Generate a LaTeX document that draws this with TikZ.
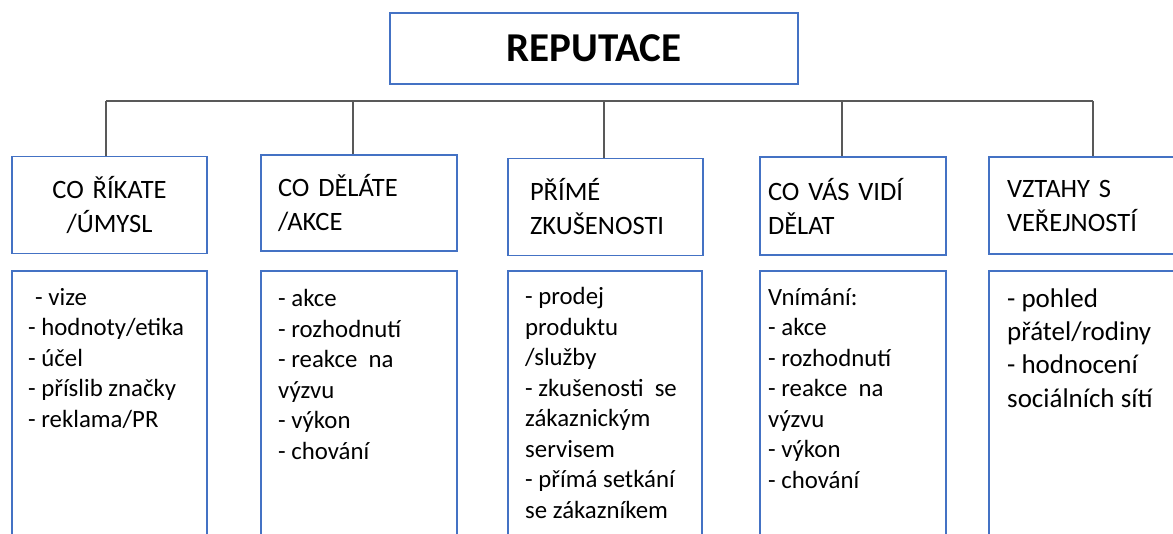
\documentclass[tikz,border=0pt]{standalone}
\usepackage{fontspec}
\setmainfont{Carlito}
\usetikzlibrary{positioning}
\definecolor{boxblue}{HTML}{4472C4}
\definecolor{linegray}{HTML}{595959}

\begin{document}
\begin{tikzpicture}[x=1pt,y=-1pt,
		BoxStyle/.style = {draw=boxblue,line width=1.4pt,shape=rectangle,inner sep=0pt},
		HeadStyle/.style = {BoxStyle,minimum height=97pt,align=left,font=\fontsize{26.5}{34}\selectfont},
		LowStyle/.style = {BoxStyle,minimum height=290pt},
		ListStyle/.style = {inner sep=0pt,align=left,anchor=base west,font=\fontsize{24.8}{30.5}\selectfont},
		EdgeStyle/.style = {draw=linegray,line width=1.1pt}]
		\path[use as bounding box,clip] (0,0) rectangle (1173,533);
		% title
		\node[BoxStyle,minimum width=408pt,minimum height=71pt,font=\fontsize{41}{41}\bfseries] (rep) at (594,48.5) {REPUTACE};
		% headings
		\node[HeadStyle,text width=195pt,align=center] (h1) at (109.5,205) {CO ŘÍKATE\\/ÚMYSL};
		\node[HeadStyle,text width=162pt,inner xsep=17pt,minimum height=96pt] (h2) at (359,203) {CO DĚLÁTE\\/AKCE};
		\node[HeadStyle,text width=151pt,inner xsep=22pt] (h3) at (605.5,207) {PŘÍMÉ\\ZKUŠENOSTI};
		\node[HeadStyle,text width=170pt,inner xsep=8pt,minimum height=98pt] (h4) at (853,206) {CO VÁS VIDÍ\\DĚLAT};
		\node[HeadStyle,text width=159pt,inner xsep=18pt] (h5) at (1086.5,205.5) {VZTAHY S\\VEŘEJNOSTÍ};
		% lower boxes
		\node[LowStyle,minimum width=195pt] (l1) at (109.5,416) {};
		\node[LowStyle,minimum width=196pt] (l2) at (359,416) {};
		\node[LowStyle,minimum width=194pt] (l3) at (605,416) {};
		\node[LowStyle,minimum width=186pt] (l4) at (853,416) {};
		\node[LowStyle,minimum width=195pt] (l5) at (1086.5,416) {};
		% lists (base = last line)
		\node[ListStyle] (t1) at (28,427) {\hspace{7pt}- vize\\- hodnoty/etika\\- účel\\- příslib značky\\- reklama/PR};
		\node[ListStyle] (t2) at (278,459) {- akce\\- rozhodnutí\\- reakce~ na\\výzvu\\- výkon\\- chování};
		\node[ListStyle] (t3) at (525,518) {- prodej\\produktu\\/služby\\- zkušenosti~ se\\zákaznickým\\servisem\\- přímá setkání\\se zákazníkem};
		\node[ListStyle] (t4) at (768,488) {Vnímání:\\- akce\\- rozhodnutí\\- reakce~ na\\výzvu\\- výkon\\- chování};
		\node[ListStyle,font=\fontsize{27}{33.3}\selectfont] (t5) at (1007,407) {- pohled\\přátel/rodiny\\- hodnocení\\sociálních sítí};
		% connectors
		\coordinate (b1) at (106,101);
		\coordinate (b2) at (353,101);
		\coordinate (b3) at (604,101);
		\coordinate (b4) at (842,101);
		\coordinate (b5) at (1093,101);
		\draw[EdgeStyle] (b1) -- (b5);
		\foreach \i in {1,...,5}
			\draw[EdgeStyle] (b\i) -- (b\i |- h\i.north);
	\end{tikzpicture}
\end{document}
